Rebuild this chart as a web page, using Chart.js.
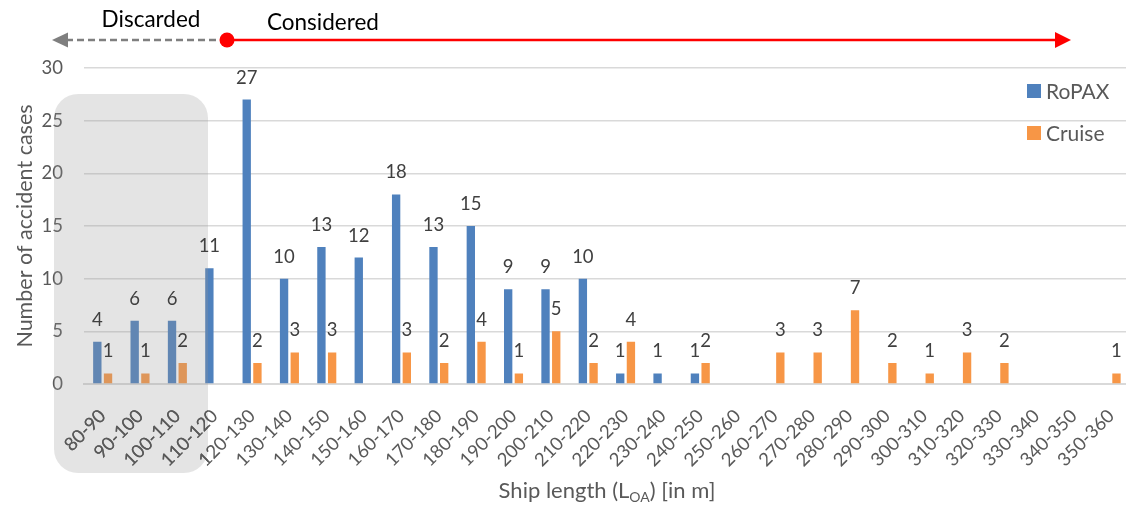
<!DOCTYPE html>
<html>
<head>
<meta charset="utf-8">
<script src="https://cdn.jsdelivr.net/npm/chart.js@4/dist/chart.umd.min.js"></script>
<style>
  html, body { margin: 0; padding: 0; background: #fff; overflow: hidden; width: 1126px; height: 506px; }
  #wrap { width: 1140px; height: 506px; }
</style>
</head>
<body>
<div id="wrap"><canvas id="c" width="1140" height="506"></canvas></div>
<script>
// Ship length classes (LOA, metres)
const lengthClasses = ['80-90','90-100','100-110','110-120','120-130','130-140','140-150','150-160',
  '160-170','170-180','180-190','190-200','200-210','210-220','220-230','230-240','240-250',
  '250-260','260-270','270-280','280-290','290-300','300-310','310-320','320-330','330-340',
  '340-350','350-360'];

// Accident cases per class
const ropaxCases  = [4, 6, 6, 11, 27, 10, 13, 12, 18, 13, 15, 9, 9, 10, 1, 1, 1, 0, 0, 0, 0, 0, 0, 0, 0, 0, 0, 0];
const cruiseCases = [1, 1, 2, 0, 2, 3, 3, 0, 3, 2, 4, 1, 5, 2, 4, 0, 2, 0, 3, 3, 7, 2, 1, 3, 2, 0, 0, 1];

const yTicks = [0, 5, 10, 15, 20, 25, 30];

const BLUE = '#4f81bd';
const ORANGE = '#f79646';
const FONT = 'Lato, "Open Sans", sans-serif';

// Value labels above each non-zero bar, plus the shaded "discarded" range
const overlayPlugin = {
  id: 'overlay',
  afterDatasetsDraw(chart) {
    const ctx = chart.ctx;
    const box = { x: 54, y: 94, w: 154, h: 379 };
    // shaded region over the discarded length classes
    ctx.save();
    ctx.fillStyle = 'rgba(150,150,150,0.26)';
    ctx.beginPath();
    ctx.roundRect(box.x, box.y, box.w, box.h, 24);
    ctx.fill();
    ctx.restore();

    // keep the category labels inside the shaded region at full contrast
    ctx.save();
    ctx.beginPath();
    ctx.rect(box.x, chart.chartArea.bottom + 4, box.w, box.h);
    ctx.clip();
    chart.scales.x.draw(chart.chartArea);
    ctx.restore();

    ctx.save();
    ctx.font = '18.5px ' + FONT;
    ctx.fillStyle = '#404040';
    ctx.textAlign = 'center';
    ctx.textBaseline = 'middle';
    chart.data.datasets.forEach((ds, di) => {
      const meta = chart.getDatasetMeta(di);
      meta.data.forEach((el, i) => {
        const v = ds.data[i];
        if (v > 0) ctx.fillText(String(v), el.x, el.y - 22);
      });
    });
    ctx.restore();
  },
  afterDraw(chart) {
    const ctx = chart.ctx;
    const yArrow = 40;
    ctx.save();

    // "Discarded" arrow (dashed, grey, pointing left)
    ctx.strokeStyle = '#7f7f7f';
    ctx.lineWidth = 2.5;
    ctx.setLineDash([7, 4]);
    ctx.beginPath();
    ctx.moveTo(216, yArrow);
    ctx.lineTo(66, yArrow);
    ctx.stroke();
    ctx.setLineDash([]);
    ctx.fillStyle = '#7f7f7f';
    ctx.beginPath();
    ctx.moveTo(52, yArrow);
    ctx.lineTo(68, yArrow - 7.5);
    ctx.lineTo(68, yArrow + 7.5);
    ctx.closePath();
    ctx.fill();

    // "Considered" arrow (solid, red, pointing right)
    ctx.strokeStyle = '#ff0000';
    ctx.lineWidth = 2.5;
    ctx.beginPath();
    ctx.moveTo(227, yArrow);
    ctx.lineTo(1057, yArrow);
    ctx.stroke();
    ctx.fillStyle = '#ff0000';
    ctx.beginPath();
    ctx.moveTo(1071, yArrow);
    ctx.lineTo(1055, yArrow - 8);
    ctx.lineTo(1055, yArrow + 8);
    ctx.closePath();
    ctx.fill();
    ctx.beginPath();
    ctx.arc(227, yArrow, 7.5, 0, Math.PI * 2);
    ctx.fill();

    ctx.fillStyle = '#000';
    ctx.font = '22.5px ' + FONT;
    ctx.textBaseline = 'alphabetic';
    ctx.textAlign = 'center';
    ctx.fillText('Discarded', 151, 27);
    ctx.textAlign = 'left';
    ctx.fillText('Considered', 267, 30);

    // y-axis title
    ctx.fillStyle = '#595959';
    ctx.font = '21.5px ' + FONT;
    ctx.save();
    ctx.translate(25, 226);
    ctx.rotate(-Math.PI / 2);
    ctx.textAlign = 'center';
    ctx.textBaseline = 'middle';
    ctx.fillText('Number of accident cases', 0, 0);
    ctx.restore();

    // x-axis title with subscript
    const partA = 'Ship length (L';
    const sub = 'OA';
    const partB = ') [in m]';
    ctx.font = '22px ' + FONT;
    const wA = ctx.measureText(partA).width;
    const wB = ctx.measureText(partB).width;
    ctx.font = '14px ' + FONT;
    const wS = ctx.measureText(sub).width;
    let x = 607 - (wA + wS + wB) / 2;
    const base = 498;
    ctx.textAlign = 'left';
    ctx.textBaseline = 'alphabetic';
    ctx.font = '22px ' + FONT;
    ctx.fillText(partA, x, base);
    x += wA;
    ctx.font = '14px ' + FONT;
    ctx.fillText(sub, x, base + 4);
    x += wS;
    ctx.font = '22px ' + FONT;
    ctx.fillText(partB, x, base);

    // legend
    ctx.font = '21px ' + FONT;
    ctx.textBaseline = 'middle';
    [[BLUE, 'RoPAX', 91], [ORANGE, 'Cruise', 133]].forEach(([col, txt, cy]) => {
      ctx.fillStyle = col;
      ctx.fillRect(1027, cy - 7, 14, 14);
      ctx.fillStyle = '#595959';
      ctx.fillText(txt, 1046, cy + 1);
    });

    ctx.restore();
  }
};

new Chart(document.getElementById('c'), {
  type: 'bar',
  data: {
    labels: lengthClasses,
    datasets: [
      { label: 'RoPAX', data: ropaxCases, backgroundColor: BLUE },
      { label: 'Cruise', data: cruiseCases, backgroundColor: ORANGE }
    ]
  },
  options: {
    responsive: false,
    animation: false,
    devicePixelRatio: 1,
    categoryPercentage: 0.573,
    barPercentage: 0.78,
    layout: { padding: { top: 68, right: 10, left: 0, bottom: 0 } },
    plugins: { legend: { display: false }, tooltip: { enabled: false } },
    scales: {
      x: {
        grid: { display: false },
        border: { display: true, color: '#d9d9d9', width: 2 },
        ticks: {
          autoSkip: false,
          maxRotation: 45,
          minRotation: 45,
          color: '#595959',
          font: { family: FONT, size: 18.5 },
          padding: 13
        },
        afterFit(scale) { scale.height = 122; }
      },
      y: {
        min: 0,
        max: 30,
        afterBuildTicks(scale) { scale.ticks = yTicks.map(v => ({ value: v })); },
        grid: { color: '#d9d9d9', lineWidth: 1.5, drawTicks: false },
        border: { display: false },
        ticks: {
          color: '#595959',
          font: { family: FONT, size: 18.5 },
          padding: 21
        },
        afterFit(scale) { scale.width = 84; }
      }
    }
  },
  plugins: [overlayPlugin]
});
</script>
</body>
</html>
